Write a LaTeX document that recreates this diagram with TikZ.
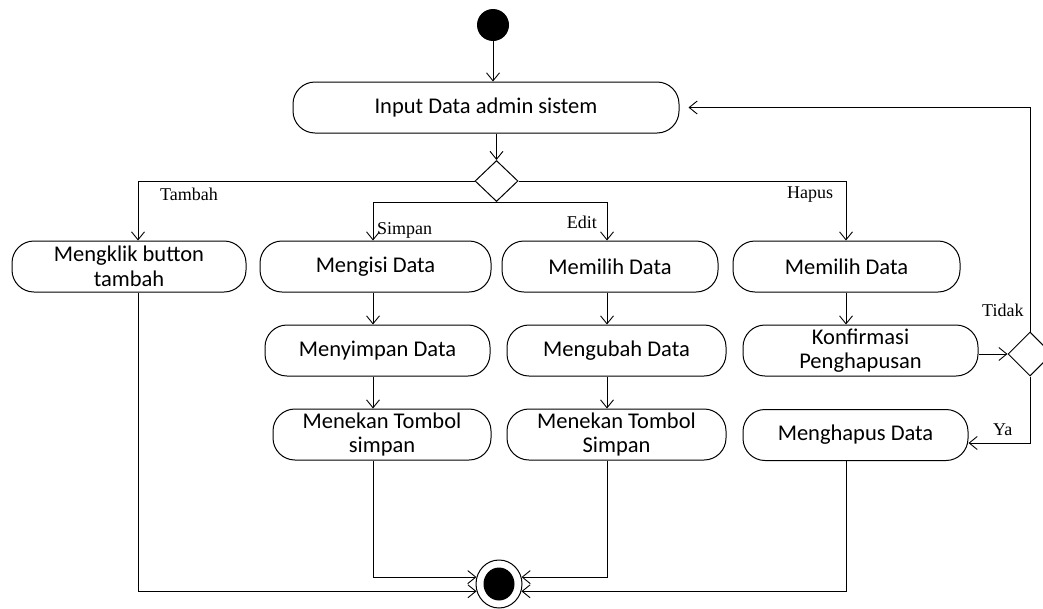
\documentclass[tikz,border=0pt]{standalone}
\usepackage{fontspec}
\setmainfont{Carlito}
\newfontfamily\labfont{Liberation Serif}
\usetikzlibrary{arrows.meta,shapes.geometric}
\begin{document}
\begin{tikzpicture}[x=1pt,y=-1pt,
  act/.style={draw,line width=1pt,rectangle,rounded corners=22pt,minimum height=51pt,inner sep=1pt,align=center,font=\fontsize{22.5}{24.5}\selectfont},
  arr/.style={draw,line width=0.9pt,-{Straight Barb[length=8pt,width=13pt,line width=0.9pt]}},
  ln/.style={draw,line width=0.9pt},
  lab/.style={font=\labfont\fontsize{18}{20}\selectfont,inner sep=0pt},
  dec/.style={draw,line width=1pt,diamond,inner sep=0pt,minimum width=43pt,minimum height=41pt}]
\useasboundingbox (0,0) rectangle (1043,608);
% columns
\coordinate (colA) at (138,0);
\coordinate (colB) at (373,0);
\coordinate (colC) at (607,0);
\coordinate (colD) at (846,0);
% start
\node[circle,fill=black,minimum size=32pt,inner sep=0pt] (start) at (493,25) {};
\node[act,minimum width=386pt] (input) at (486,107.5) {Input Data admin sistem};
\node[dec] (d1) at (496.5,181) {};
% row 1
\node[act,minimum width=234pt] (klik) at (129,266.5) {Mengklik button\\tambah};
\node[act,minimum width=231pt] (isi) at (375.5,266.5) {Mengisi Data};
\node[act,minimum width=216pt] (pilih1) at (610,266.5) {Memilih Data};
\node[act,minimum width=227pt] (pilih2) at (846.5,266.5) {Memilih Data};
% row 2
\node[act,minimum width=225pt] (simpan) at (377.5,350.5) {Menyimpan Data};
\node[act,minimum width=219pt] (ubah) at (616.5,350.5) {Mengubah Data};
\node[act,minimum width=235pt] (konf) at (860.5,350.5) {Konfirmasi\\Penghapusan};
% row 3
\node[act,minimum width=218pt] (tekan1) at (382,434.5) {Menekan Tombol\\simpan};
\node[act,minimum width=219pt] (tekan2) at (616.5,434.5) {Menekan Tombol\\Simpan};
\node[act,minimum width=225pt] (hapus) at (855.5,435) {Menghapus Data};
% decision 2
\node[dec,minimum width=44pt,minimum height=44pt] (d2) at (1030,354) {};
% final
\node[draw,line width=1pt,ellipse,minimum width=46pt,minimum height=48pt,inner sep=0pt] (fin) at (499,584) {};
\node[ellipse,fill=black,minimum width=31pt,minimum height=33pt,inner sep=0pt] (finin) at (499,584) {};
% connectors
\draw[arr] (start.south) -- (start.south |- input.north);
\draw[arr] (d1.north |- input.south) -- (d1.north);
\draw[arr] (d1.west) -| (klik.north -| colA);
\draw[arr] (d1.south) -| (isi.north -| colB);
\draw[arr] (d1.south) -| (pilih1.north -| colC);
\draw[arr] (d1.east) -| (pilih2.north -| colD);
\draw[arr] (isi.south -| colB) -- (simpan.north -| colB);
\draw[arr] (simpan.south -| colB) -- (tekan1.north -| colB);
\draw[arr] (pilih1.south -| colC) -- (ubah.north -| colC);
\draw[arr] (ubah.south -| colC) -- (tekan2.north -| colC);
\draw[arr] (pilih2.south -| colD) -- (konf.north -| colD);
\draw[arr] (konf.east |- d2.west) -- (d2.west);
\draw[arr,shorten >=9pt] (d2.north) |- (input.east);
\draw[arr] (d2.south) |- ([yshift=-8pt]hapus.east);
\draw[arr] (tekan1.south -| colB) |- (fin.163);
\draw[arr] (tekan2.south -| colC) |- (fin.17);
\draw[arr] (klik.south -| colA) |- (fin.198);
\draw[arr] (hapus.south -| colD) |- (fin.-18);
% labels
\node[lab,anchor=base west] (lt) at (160,200) {Tambah};
\node[lab,anchor=base west] (ls) at (377,234) {Simpan};
\node[lab,anchor=base east] (le) at (597,228) {Edit};
\node[lab,anchor=base west] (lh) at (787,198) {Hapus};
\node[lab,anchor=base west] (ltd) at (982,316) {Tidak};
\node[lab,anchor=base west] (lya) at (993,435) {Ya};
\end{tikzpicture}
\end{document}
